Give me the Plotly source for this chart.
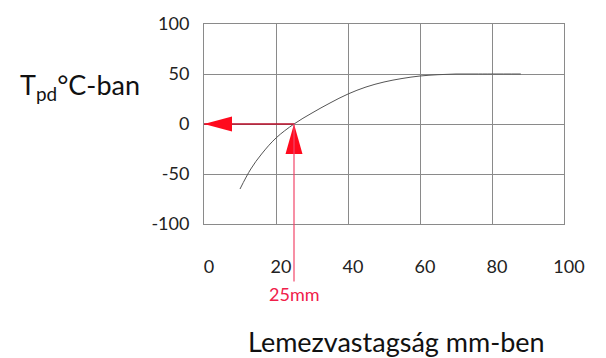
import plotly.graph_objects as go

# ---- data ----
thickness_mm = [10, 13, 16, 20, 25, 30, 35, 40, 45, 50, 55, 60, 65, 70, 75, 80, 88]
temp_c = [-65, -45, -30, -14, 0, 11, 21, 30, 37, 42, 45.5, 48, 49.3, 50, 50, 50, 50]
x_ticks = [0, 20, 40, 60, 80, 100]
y_ticks = [-100, -50, 0, 50, 100]
y_tick_labels = ["-100", "-50", "0", "50", "100"]
ARROW_X = 25   # mm
ARROW_Y = 0    # °C
marker_label = "25mm"
x_title = "Lemezvastagság mm-ben"
y_title = "T<sub>pd</sub>°C-ban"

FONT = "Lato"
fig = go.Figure()
fig.add_trace(go.Scatter(x=thickness_mm, y=temp_c, mode="lines",
                         line=dict(color="#555555", width=1, shape="spline"),
                         hoverinfo="skip", showlegend=False))

grid = "#8a8a8a"
fig.update_xaxes(range=[0, 100], tickvals=x_ticks, showgrid=True, gridcolor=grid, gridwidth=1,
                 showline=True, linecolor=grid, mirror=True, zeroline=False,
                 ticks="", tickfont=dict(family=FONT, size=18, color="#222"),
                 ticklabelstandoff=26, ticklabelshift=5, fixedrange=True)
fig.update_yaxes(range=[-100, 100], tickvals=y_ticks, ticktext=y_tick_labels,
                 showgrid=True, gridcolor=grid, gridwidth=1,
                 showline=True, linecolor=grid, mirror=True, zeroline=False,
                 ticks="", tickfont=dict(family=FONT, size=18, color="#222"),
                 ticklabelstandoff=10, fixedrange=True)

shapes = [
    # horizontal dark-red line from the curve point to the y axis
    dict(type="line", xref="x", yref="y", x0=ARROW_X, y0=ARROW_Y, x1=0, y1=ARROW_Y,
         line=dict(color="#b80c28", width=1.5)),
    # left arrow head (tip at x=0)
    dict(type="path", xref="x", yref="y", xsizemode="pixel", ysizemode="pixel",
         xanchor=0, yanchor=ARROW_Y, path="M0,0 L28,7.5 L28,-7.5 Z",
         fillcolor="#ff0a1e", line=dict(width=0)),
    # up arrow head (tip at the curve point)
    dict(type="path", xref="x", yref="y", xsizemode="pixel", ysizemode="pixel",
         xanchor=ARROW_X, yanchor=ARROW_Y, path="M0,0 L-8.5,-30 L8.5,-30 Z",
         fillcolor="#ff0a1e", line=dict(width=0)),
]

annotations = [
    dict(x=ARROW_X, y=ARROW_Y, xref="x", yref="y", ax=0, ay=170, axref="pixel", ayref="pixel",
         text=marker_label, showarrow=True, arrowhead=0, arrowwidth=1.2, arrowcolor="#f2476a",
         font=dict(family=FONT, size=18, color="#f0204a"), standoff=0, startstandoff=0),
    dict(x=0.535, y=-0.585, xref="paper", yref="paper", text=x_title, showarrow=False,
         font=dict(family=FONT, size=27, color="#111"), xanchor="center", yanchor="middle"),
    dict(x=-0.345, y=0.69, xref="paper", yref="paper", text=y_title, showarrow=False,
         font=dict(family=FONT, size=27, color="#111"), xanchor="center", yanchor="middle"),
]

fig.update_layout(width=606, height=358, margin=dict(l=204, r=42, t=20, b=134),
                  paper_bgcolor="white", plot_bgcolor="white",
                  shapes=shapes, annotations=annotations, showlegend=False)

fig.write_html("out.html", config={"displayModeBar": False})
